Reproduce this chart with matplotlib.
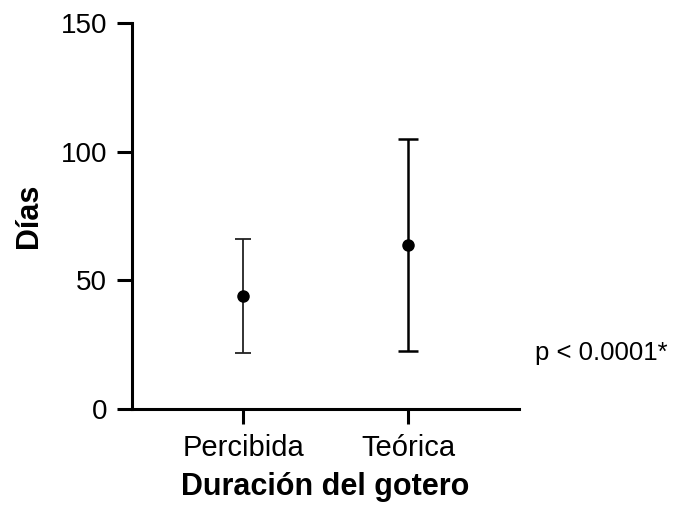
import matplotlib
matplotlib.use("Agg")
import matplotlib.pyplot as plt

# datos
grupos = ["Percibida", "Teórica"]
medias = [43.9, 63.7]
desv = [22.2, 41.3]
yticks = [0, 50, 100, 150]

plt.rcParams['font.family'] = ['Liberation Sans', 'DejaVu Sans']

fig = plt.figure(figsize=(6.84, 5.12), dpi=100)
ax = fig.add_axes([132/684, 1 - 409/512, (519 - 132)/684, (409 - 23)/512])

x = list(range(len(grupos)))
anchos = [1.3, 1.8]
colores = ['#222222', 'black']
caps = [6, 7]
for i in x:
    ax.errorbar(x[i], medias[i], yerr=desv[i], fmt='o', color='black', ecolor=colores[i],
                elinewidth=anchos[i], capsize=caps[i], capthick=anchos[i], markersize=8)

ax.set_xlim(-0.673, 1.672)
ax.set_ylim(0, 150)
ax.set_yticks(yticks)
ax.set_xticks(x)
ax.set_xticklabels(grupos)

for s in ['top', 'right']:
    ax.spines[s].set_visible(False)
for s in ['left', 'bottom']:
    ax.spines[s].set_linewidth(2.2)

ax.tick_params(axis='both', width=2.2, length=11, labelsize=20, pad=7)
ax.tick_params(axis='x', labelsize=21)
ax.set_ylabel("Días", fontsize=22, fontweight='bold', labelpad=12)
ax.set_xlabel("Duración del gotero", fontsize=22, fontweight='bold', labelpad=7)

fig.text(535/684, 0.31, "p < 0.0001*", fontsize=18.5, va='center', ha='left')

fig.savefig("out.png", dpi=100)
